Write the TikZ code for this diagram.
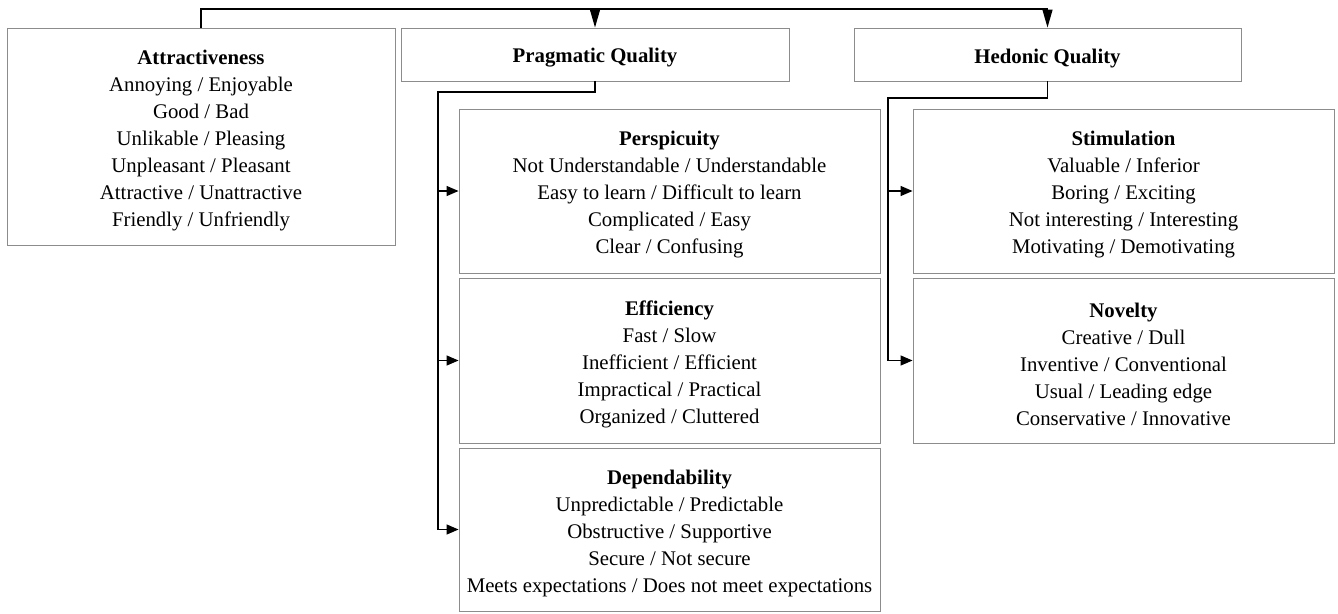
\documentclass[tikz,border=0pt]{standalone}
\usepackage{fontspec}
\newfontfamily\tnr{Liberation Serif}
\usetikzlibrary{arrows.meta}
\newcommand{\tstrut}{\rule{0pt}{21.5pt}}
\begin{document}
\begin{tikzpicture}[x=1pt,y=-1pt,
  box/.style={draw=black!45,line width=0.9pt,rectangle,inner sep=0pt,align=center,
    font=\tnr\fontsize{20.8}{27}\selectfont},
  conn/.style={draw=black,line width=1.3pt},
  toparr/.style={conn,-{Triangle[length=18pt,width=10pt]}},
  sidearr/.style={conn,-{Triangle[length=12pt,width=10pt]}}]
\useasboundingbox (0,0) rectangle (1338,613);
\node[box,minimum width=388pt,minimum height=217pt] (attr) at (201,136.5)
  {\tstrut\textbf{Attractiveness}\\Annoying / Enjoyable\\Good / Bad\\Unlikable / Pleasing\\Unpleasant / Pleasant\\Attractive / Unattractive\\Friendly / Unfriendly};
\node[box,minimum width=388pt,minimum height=53pt] (prag) at (595,54.5) {\tstrut\textbf{Pragmatic Quality}};
\node[box,minimum width=387pt,minimum height=53pt] (hed) at (1047.5,54.5) {\tstrut\textbf{Hedonic Quality}};
\node[box,minimum width=421pt,minimum height=164pt] (persp) at (669.5,191)
  {\tstrut\textbf{Perspicuity}\\Not Understandable / Understandable\\Easy to learn / Difficult to learn\\Complicated / Easy\\Clear / Confusing};
\node[box,minimum width=421pt,minimum height=165pt] (eff) at (669.5,360.5)
  {\tstrut\textbf{Efficiency}\\Fast / Slow\\Inefficient / Efficient\\Impractical / Practical\\Organized / Cluttered};
\node[box,minimum width=421pt,minimum height=163pt] (dep) at (669.5,529.5)
  {\tstrut\textbf{Dependability}\\Unpredictable / Predictable\\Obstructive / Supportive\\Secure / Not secure\\Meets expectations / Does not meet expectations};
\node[box,minimum width=421pt,minimum height=164pt] (stim) at (1123.5,191)
  {\tstrut\textbf{Stimulation}\\Valuable / Inferior\\Boring / Exciting\\Not interesting / Interesting\\Motivating / Demotivating};
\node[box,minimum width=421pt,minimum height=165pt] (nov) at (1123.5,360.5)
  {\tstrut\textbf{Novelty}\\Creative / Dull\\Inventive / Conventional\\Usual / Leading edge\\Conservative / Innovative};
\coordinate (top) at (0,9);
\coordinate (pl) at (438,92);
\coordinate (hl) at (888,98);
\draw[toparr] (attr.north) -- (attr.north|-top) -| (hed.north);
\draw[toparr] (prag.north|-top) -- (prag.north);
\draw[conn] (prag.south) |- (pl) -- (pl|-dep.west);
\draw[sidearr] (pl|-persp.west) -- (persp.west);
\draw[sidearr] (pl|-eff.west) -- (eff.west);
\draw[sidearr] (pl|-dep.west) -- (dep.west);
\draw[conn] (hed.south) |- (hl) -- (hl|-nov.west);
\draw[sidearr] (hl|-stim.west) -- (stim.west);
\draw[sidearr] (hl|-nov.west) -- (nov.west);
\end{tikzpicture}
\end{document}
